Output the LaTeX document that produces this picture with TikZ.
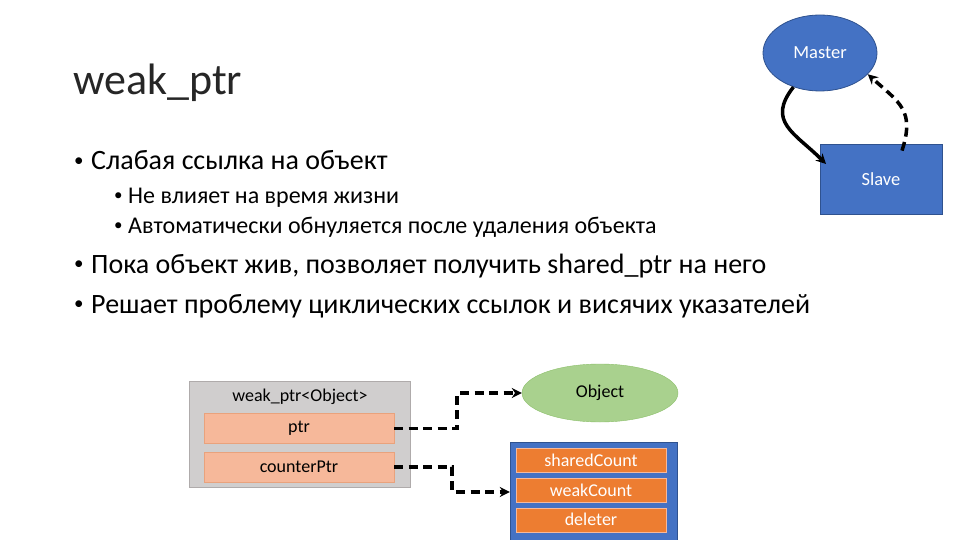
\documentclass[tikz,border=0pt]{standalone}
\usepackage{fontspec}
\setmainfont{Carlito}
\usetikzlibrary{arrows.meta,positioning,shapes.geometric}
\definecolor{slideblue}{HTML}{4472C4}
\definecolor{blueedge}{HTML}{2F528F}
\definecolor{objgreen}{HTML}{A9D18E}
\definecolor{greenedge}{HTML}{8CBF6A}
\definecolor{boxgray}{HTML}{D0CECE}
\definecolor{grayedge}{HTML}{AFABAB}
\definecolor{fieldfill}{HTML}{F6B89A}
\definecolor{fieldedge}{HTML}{E9A27C}
\definecolor{deeporange}{HTML}{ED7D31}
\newcommand{\slidebullet}[2]{\makebox[#1][l]{\raisebox{0.12em}{\fontsize{#2}{#2}\selectfont\textbullet}}}

\begin{document}
\begin{tikzpicture}[x=1pt, y=-1pt, >={Stealth[length=10pt,width=10pt]}, node distance=6pt]
        \tikzset{
          lvlone/.style={anchor=base west, inner sep=0pt, font=\fontsize{28}{33}\selectfont},
          lvltwo/.style={anchor=base west, inner sep=0pt, font=\fontsize{24}{29}\selectfont},
          blueshape/.style={fill=slideblue, draw=blueedge, line width=0.8pt, text=white, font=\fontsize{18.5}{22}\selectfont},
          field/.style={rectangle, draw=fieldedge, fill=fieldfill, minimum width=190pt, minimum height=30pt, inner sep=0pt, font=\fontsize{18}{21}\selectfont},
          counter/.style={rectangle, draw=fieldfill, fill=deeporange, text=white, minimum width=150pt, minimum height=24pt, inner sep=0pt, font=\fontsize{18}{21}\selectfont},
          link/.style={->, line width=3.5pt},
          dashlink/.style={link, dash pattern=on 9pt off 5.5pt}
        }
        \useasboundingbox (0,0) rectangle (960,540);
        \clip (0,0) rectangle (960,540);

        % slide text
        \node[anchor=base west, inner sep=0pt, text=black!85, font=\fontsize{44}{50}\selectfont] (title) at (73,95) {weak\_ptr};
        \node[lvlone] (b1) at (74,170) {\slidebullet{17pt}{19}Слабая ссылка на объект};
        \node[lvltwo] (b11) at (114,203) {\slidebullet{14pt}{17}Не влияет на время жизни};
        \node[lvltwo] (b12) at (114,233) {\slidebullet{14pt}{17}Автоматически обнуляется после удаления объекта};
        \node[lvlone] (b2) at (74,273) {\slidebullet{17pt}{19}Пока объект жив, позволяет получить shared\_ptr на него};
        \node[lvlone] (b3) at (74,313) {\slidebullet{17pt}{19}Решает проблему циклических ссылок и висячих указателей};

        % master / slave
        \node[ellipse, blueshape, minimum width=114pt, minimum height=76pt] (master) at (820,53) {Master};
        \node[rectangle, blueshape, minimum width=122pt, minimum height=70pt] (slave) at (881,179) {Slave};
        \coordinate (slavein) at (826,164);
        \draw[link] (master.232) to[out=-128, in=135, looseness=1.35] (slavein);
        \draw[dashlink] ([xshift=21pt,yshift=-7pt]slave.north) to[out=72, in=-42, looseness=1.3] (master.-24);

        % weak_ptr layout
        \node[rectangle, fill=boxgray, draw=grayedge, minimum width=221pt, minimum height=106pt] (wbox) at (299.5,434) {};
        \node[font=\fontsize{18}{21}\selectfont] (wname) at (300,397) {weak\_ptr<Object>};
        \node[field] (ptr) at (299,428.5) {ptr};
        \node[field, below=8pt of ptr] (cptr) {counterPtr};

        \node[ellipse, fill=objgreen, draw=greenedge, minimum width=156pt, minimum height=58pt, font=\fontsize{18}{21}\selectfont] (obj) at (600,393) {Object};
        \node[rectangle, fill=slideblue, draw=blueedge, minimum width=167pt, minimum height=100pt, inner sep=0pt] (ctrl) at (593.5,492) {};
        \node[counter] (shared) at (591,460) {sharedCount};
        \node[counter, below=of shared] (weak) {weakCount};
        \node[counter, below=5pt of weak] (deleter) {deleter};

        \draw[dashlink] (ptr.east) -- ++(63,0) |- (obj.west);
        \draw[dashlink] (cptr.east) -- ++(58,0) |- (ctrl.west);
\end{tikzpicture}
\end{document}
